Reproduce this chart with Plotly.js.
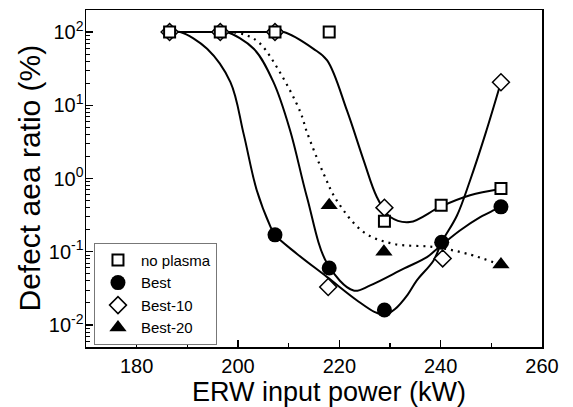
<!DOCTYPE html>
<html>
<head>
<meta charset="utf-8">
<script src="https://cdn.plot.ly/plotly-3.0.1.min.js"></script>
<style>html,body{margin:0;padding:0;background:#fff;}#chart{width:573px;height:407px;}</style>
</head>
<body>
<div id="chart"></div>
<script>
// ---- measured data points ----
const powerNoPlasma = [186.5, 196.5, 207.3, 218.0, 228.9, 240.1, 251.9];
const noPlasma      = [100, 100, 100, 100, 0.26, 0.43, 0.73];

const powerBest = [207.3, 218.0, 228.9, 240.2, 251.9];
const best      = [0.17, 0.06, 0.0160, 0.135, 0.41];

const powerBest10 = [186.5, 196.5, 207.3, 217.8, 228.9, 240.4, 251.9];
const best10      = [100, 100, 100, 0.033, 0.40, 0.081, 20.6];

const powerBest20 = [218.0, 228.8, 251.9];
const best20      = [0.43, 0.10, 0.067];

// ---- fitted guide curves ----
const curveAx = [186.5, 188.6, 193.9, 198.5, 201.1, 203.7, 206.4, 207.2, 211.6, 217.6, 223.5, 227.0, 229.0, 231.0, 233.5, 235.3, 238.6, 240.2, 243.2, 245.8, 248.8, 251.9];
const curveAy = [100, 100, 59, 20.7, 4.1, 0.69, 0.22, 0.172, 0.094, 0.045, 0.0216, 0.0150, 0.0138, 0.0165, 0.026, 0.0406, 0.076, 0.135, 0.31, 0.94, 4.0, 20.6];

const curveBx = [186.5, 196.5, 197.8, 203.1, 207.0, 210.3, 213.6, 217.6, 222.8, 226.1, 232.7, 237.3, 238.9, 243.8, 247.8, 250.4, 252.0];
const curveBy = [100, 100, 100, 59, 20.7, 4.5, 0.56, 0.069, 0.0295, 0.0347, 0.0586, 0.0843, 0.104, 0.195, 0.297, 0.366, 0.41];

const curveCx = [186.5, 196.5, 207.3, 209.0, 214.9, 217.6, 221.5, 224.8, 227.4, 230.0, 233.9, 239.9, 245.8, 251.7];
const curveCy = [100, 100, 100, 100, 59, 41, 8.5, 1.77, 0.56, 0.30, 0.254, 0.41, 0.59, 0.72];

const curveDx = [196.5, 199.0, 201.8, 204.4, 208.3, 212.3, 213.6, 216.9, 219.5, 224.8, 230.7, 238.6, 245.2, 251.9];
const curveDy = [100, 99, 90, 69, 28, 8.1, 4.3, 1.16, 0.5, 0.185, 0.128, 0.116, 0.094, 0.066];

const yTickVals = [0.01, 0.1, 1, 10, 100];
const yTickText = ['10<sup>-2</sup>', '10<sup>-1</sup>', '10<sup>0</sup>', '10<sup>1</sup>', '10<sup>2</sup>'];

const seriesNames = ['no plasma', 'Best', 'Best-10', 'Best-20'];

// minor log ticks (axis decoration)
const minorVals = [];
for (let e = -3; e <= 2; e++) {
  for (let m = 2; m <= 9; m++) {
    const v = m * Math.pow(10, e);
    if (v >= 0.005 && v <= 200) minorVals.push(v);
  }
}

const curveLine = {color: 'black', width: 2, shape: 'spline', smoothing: 1};

const data = [
  {x: curveAx, y: curveAy, mode: 'lines', line: curveLine, showlegend: false, hoverinfo: 'skip'},
  {x: curveBx, y: curveBy, mode: 'lines', line: curveLine, showlegend: false, hoverinfo: 'skip'},
  {x: curveCx, y: curveCy, mode: 'lines', line: curveLine, showlegend: false, hoverinfo: 'skip'},
  {x: curveDx, y: curveDy, mode: 'lines', line: {color: 'black', width: 2.2, dash: '2px,5px', shape: 'spline', smoothing: 1}, showlegend: false, hoverinfo: 'skip'},
  {x: powerBest20, y: best20, name: seriesNames[3], mode: 'markers', legendrank: 4,
   marker: {symbol: 'triangle-up', size: 15, color: 'black', line: {width: 0}}},
  {x: powerBest, y: best, name: seriesNames[1], mode: 'markers', legendrank: 2,
   marker: {symbol: 'circle', size: 15, color: 'black', line: {width: 0}}},
  {x: powerBest10, y: best10, name: seriesNames[2], mode: 'markers', legendrank: 3,
   marker: {symbol: 'diamond', size: 13, color: 'white', line: {color: 'black', width: 1.5}}},
  {x: powerNoPlasma, y: noPlasma, name: seriesNames[0], mode: 'markers', legendrank: 1,
   marker: {symbol: 'square', size: 11, color: 'white', line: {color: 'black', width: 2}}}
];

const font = 'Liberation Sans, Arial, sans-serif';

const layout = {
  width: 573, height: 407,
  margin: {l: 86, r: 31, t: 10, b: 60},
  paper_bgcolor: 'white', plot_bgcolor: 'white',
  font: {family: font, color: 'black'},
  showlegend: true,
  xaxis: {
    range: [170, 260], tick0: 180, dtick: 20,
    ticks: 'inside', ticklen: 7, tickwidth: 1.5, tickcolor: 'black',
    minor: {ticks: 'inside', dtick: 10, tick0: 180, ticklen: 4, tickwidth: 1.5, tickcolor: 'black', showgrid: false},
    showline: true, linewidth: 1.5, linecolor: 'black', mirror: true,
    showgrid: false, zeroline: false,
    tickfont: {size: 20, family: font}
  },
  yaxis: {
    type: 'log', range: [Math.log10(0.005), Math.log10(200)],
    tickmode: 'array', tickvals: yTickVals, ticktext: yTickText,
    ticks: 'inside', ticklen: 7, tickwidth: 1.5, tickcolor: 'black',
    minor: {ticks: 'inside', tickmode: 'array', tickvals: minorVals, ticklen: 4, tickwidth: 1, tickcolor: 'black', showgrid: false},
    showline: true, linewidth: 1.5, linecolor: 'black', mirror: true,
    showgrid: false, zeroline: false,
    ticklabelstandoff: -3,
    tickfont: {size: 20, family: font}
  },
  legend: {
    x: 0.0175, y: 0.309, xanchor: 'left', yanchor: 'top',
    bgcolor: 'white', bordercolor: '#777', borderwidth: 1,
    font: {size: 15, family: font}, traceorder: 'normal',
    itemwidth: 36
  },
  annotations: [
    {text: 'ERW input power (kW)', xref: 'paper', yref: 'paper', x: 0.533, y: -0.1335,
     xanchor: 'center', yanchor: 'middle', showarrow: false, font: {size: 27, family: font}},
    {text: 'Defect aea ratio (%)', xref: 'paper', yref: 'paper', x: -0.125, y: 0.5,
     xanchor: 'center', yanchor: 'middle', textangle: -90, showarrow: false, font: {size: 30, family: font}}
  ]
};

Plotly.newPlot('chart', data, layout, {staticPlot: true, displayModeBar: false});
</script>
</body>
</html>
